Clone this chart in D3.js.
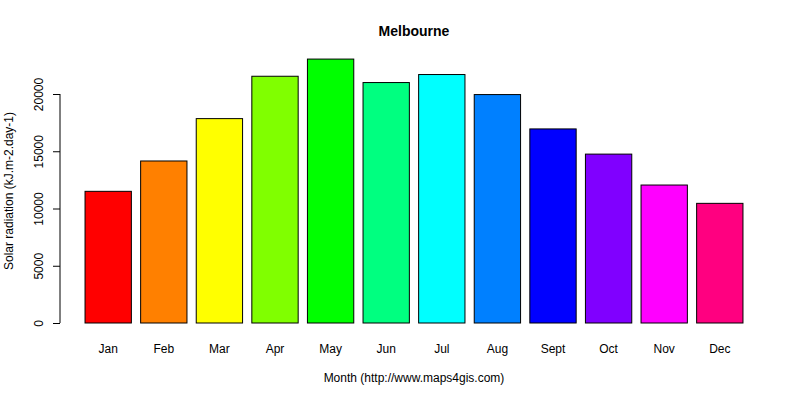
<!DOCTYPE html>
<html><head><meta charset="utf-8">
<script src="https://cdn.jsdelivr.net/npm/d3@7"></script>
<style>body{margin:0;background:#fff}text{font-family:"Liberation Sans",Arial,sans-serif;font-size:12px}</style>
</head><body><svg id="c" width="800" height="400"></svg>
<script>
const months = ["Jan","Feb","Mar","Apr","May","Jun","Jul","Aug","Sept","Oct","Nov","Dec"];
const values = [11500,14150,17850,21550,23050,21000,21700,19950,16950,14750,12050,10450];
const colors = ["#FF0000","#FF8000","#FFFF00","#80FF00","#00FF00","#00FF80","#00FFFF","#0080FF","#0000FF","#8000FF","#FF00FF","#FF0080"];
const yTicks = [0,5000,10000,15000,20000];

const svg = d3.select("#c");
const x = d3.scaleBand().domain(months).range([80.4,747.6]).paddingInner(1/6).paddingOuter(1/12);
const y = d3.scaleLinear().domain([0,20000]).range([323,94]);

svg.selectAll("rect").data(values).enter().append("rect")
  .attr("x",(d,i)=>x(months[i])).attr("width",x.bandwidth())
  .attr("y",d=>y(d)).attr("height",d=>y(0)-y(d))
  .attr("fill",(d,i)=>colors[i]).attr("stroke","#000").attr("stroke-width",1);

const ya = svg.append("g").attr("transform","translate(60,0)")
  .call(d3.axisLeft(y).tickValues(yTicks).tickSize(7).tickFormat(d3.format("d")));
ya.select(".domain").attr("d","M0,323V94");
ya.selectAll(".tick text").attr("x",0).attr("y",0).attr("dy","0.35em")
  .attr("transform","translate(-21,0) rotate(-90)").attr("text-anchor","middle")
  .attr("fill","#000").style("font-size","12px").style("font-family","Liberation Sans, Arial, sans-serif");

svg.append("g").selectAll("text").data(months).enter().append("text")
  .attr("x",d=>x(d)+x.bandwidth()/2).attr("y",353).attr("text-anchor","middle").text(d=>d);

svg.append("text").attr("x",414).attr("y",36).attr("text-anchor","middle")
  .style("font-weight","bold").style("font-size","14px").text("Melbourne");
svg.append("text").attr("x",414).attr("y",382).attr("text-anchor","middle").text("Month (http://www.maps4gis.com)");
svg.append("text").attr("transform","translate(13,191) rotate(-90)").attr("text-anchor","middle")
  .text("Solar radiation (kJ.m-2.day-1)");
</script></body></html>
